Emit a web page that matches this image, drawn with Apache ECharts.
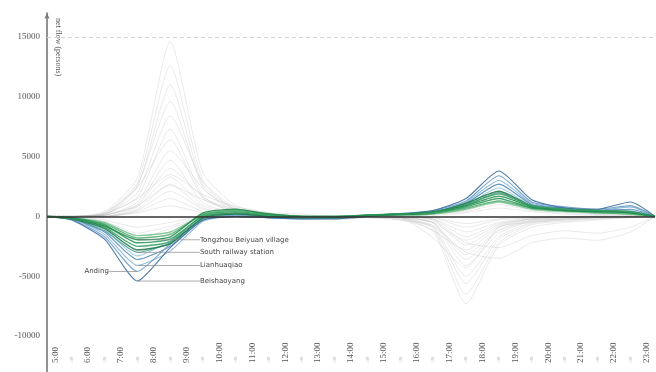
<!DOCTYPE html>
<html>
<head>
<meta charset="utf-8">
<script src="https://cdn.jsdelivr.net/npm/echarts@6/dist/echarts.min.js"></script>
<style>
  html, body { margin: 0; padding: 0; background: #fff; }
  #chart { width: 656px; height: 372px; }
</style>
</head>
<body>
<div id="chart"></div>
<script>
// Sample times (hour of day, hourly bins plotted at bin centre, day edges at zero)
const times = [4.75, 5.5, 6.5, 7.5, 8.5, 9.5, 10.5, 11.5, 12.5, 13.5, 14.5, 15.5, 16.5, 17.5, 18.5, 19.5, 20.5, 21.5, 22.5, 23.25];

// Axis tick values
const hourTicks = [5, 5.5, 6, 6.5, 7, 7.5, 8, 8.5, 9, 9.5, 10, 10.5, 11, 11.5, 12, 12.5, 13, 13.5, 14, 14.5, 15, 15.5, 16, 16.5, 17, 17.5, 18, 18.5, 19, 19.5, 20, 20.5, 21, 21.5, 22, 22.5, 23];
const flowTicks = [-10000, -5000, 0, 5000, 10000, 15000];
const guideLevel = 15000;

// Background stations: net flow per hour
const gray01 = [0, 0, 400, 3200, 14600, 3600, 900, 300, 0, -300, -100, -300, -1200, -7300, -2400, -900, -500, -300, -100, 0];
const gray02 = [0, 0, 300, 2800, 12600, 3000, 700, 200, -100, -200, 0, -200, -1000, -6500, -2200, -700, -400, -200, -100, 0];
const gray03 = [0, 0, 300, 2500, 11000, 2600, 600, 100, 0, -200, -100, -300, -900, -5600, -1900, -600, -300, -200, 0, 0];
const gray04 = [0, 0, 200, 2600, 9600, 2400, 500, 200, -100, -100, 0, -200, -800, -5000, -1700, -500, -300, -100, 0, 0];
const gray05 = [0, 0, 200, 2000, 8400, 2800, 500, 100, 0, -100, 0, -100, -1800, -4300, -900, -500, -200, -100, 0, 0];
const gray06 = [0, 0, 200, 1600, 7300, 1700, 400, 100, 0, -100, 100, -100, -600, -4100, -1400, -400, -200, -100, 0, 0];
const gray07 = [0, 0, 100, 2400, 6400, 1500, 400, 100, 0, 0, 0, -100, -500, -3600, -1200, -400, -200, 0, 0, 0];
const gray08 = [0, 0, 100, 1200, 5500, 2300, 300, 100, 0, 0, 0, -100, -500, -3200, -1100, -300, -100, 0, 0, 0];
const gray09 = [0, 0, 100, 1000, 4700, 1100, 300, 0, 0, 0, 100, 0, -1200, -2800, -900, -300, -100, 0, 0, 0];
const gray10 = [0, 0, 100, 900, 4000, 1600, 200, 0, 0, 0, 0, 0, -300, -2400, -800, -200, -100, 0, 0, 0];
const gray11 = [0, 0, 0, 800, 3300, 900, 200, 0, 0, 0, 0, 0, -300, -2000, -700, -200, 0, 0, 0, 0];
const gray12 = [0, 0, 0, 600, 2700, 700, 200, 0, 0, 0, 0, 0, -200, -1700, -600, -200, 0, 0, 0, 0];
const gray13 = [0, 0, 0, 500, 2100, 600, 100, 0, 0, 0, 0, 0, -200, -1300, -500, -100, 0, 0, 0, 0];
const gray14 = [0, 0, 0, 400, 1500, 400, 100, 0, 0, 0, 0, 0, -100, -900, -300, -100, 0, 0, 0, 0];
const gray15 = [0, 0, 0, 300, 900, 300, 100, 0, 0, 0, 0, 0, -100, -600, -200, 0, 0, 0, 0, 0];
const gray16 = [0, -100, -600, -2800, -1400, -200, 100, 0, -100, 0, 100, 200, 300, 600, 1900, 900, 500, 300, 200, 0];
const gray17 = [0, -100, -500, -1900, -1000, -100, 100, 0, 0, 0, 100, 100, 200, 500, 1300, 600, 400, 200, 100, 0];
const gray18 = [0, -50, -400, -1400, -800, 0, 100, 0, 0, 0, 0, 100, 200, 400, 1000, 500, 300, 200, 100, 0];
const gray19 = [0, 0, -300, -900, -500, 0, 0, 0, 0, 0, 0, 100, 100, 300, 700, 400, 200, 100, 0, 0];
const gray20 = [0, 0, 200, 1500, 3500, 1800, 800, 300, 200, 0, 0, -100, -800, -3000, -3500, -2200, -1800, -2000, -1300, 0];
const gray21 = [0, 0, 100, 900, 2600, 1400, 600, 200, 0, 0, 0, 0, -500, -2200, -2600, -1600, -1200, -1400, -900, 0];

// Highlighted stations (blue family)
const shahe = [0, -300, -1900, -5400, -2600, -300, 0, -100, -200, -200, 0, 200, 500, 1500, 3800, 1400, 700, 600, 1200, 0];
const anding = [0, -250, -1700, -4600, -2300, -200, 100, -100, -200, -150, 50, 250, 500, 1300, 3400, 1200, 800, 600, 900, 0];
const lianhuaqiao = [0, -200, -1500, -4100, -2900, -400, 0, -100, -150, -100, 100, 200, 400, 1200, 3000, 1100, 700, 500, 800, 0];
const blue4 = [0, -200, -1300, -3600, -2500, -300, 0, -100, -100, -100, 100, 200, 400, 1100, 2700, 1000, 700, 500, 600, 0];
const blue5 = [0, -150, -1100, -3300, -2000, -200, 100, 0, -100, -100, 100, 150, 300, 1000, 2400, 900, 600, 400, 500, 0];
const southStation = [0, -200, -1200, -3000, -2200, -200, 200, 0, -100, -100, 100, 200, 300, 900, 2000, 800, 600, 400, 400, 0];

// Highlighted stations (green family)
const tongzhou = [0, -150, -800, -1950, -1700, 300, 600, 200, 0, -50, 100, 200, 400, 900, 1700, 800, 500, 400, 300, 0];
const green2 = [0, -150, -900, -2500, -2100, 100, 400, 100, -100, -100, 100, 200, 300, 1000, 1900, 900, 600, 500, 400, 0];
const green3 = [0, -100, -700, -2200, -1900, 0, 300, 100, 0, 0, 100, 200, 300, 800, 1500, 700, 500, 400, 300, 0];
const green4 = [0, -100, -600, -1800, -1500, 200, 500, 200, 0, 0, 100, 150, 250, 700, 1300, 700, 500, 300, 200, 0];
const green5 = [0, -100, -500, -1600, -1300, 100, 300, 100, 0, 0, 100, 100, 200, 600, 1200, 600, 400, 300, 200, 0];
const green6 = [0, -200, -1000, -2800, -2300, -100, 200, 0, -100, -100, 50, 150, 300, 1100, 2100, 900, 600, 500, 400, 0];

const grayRows = [gray01, gray02, gray03, gray04, gray05, gray06, gray07, gray08, gray09, gray10, gray11,
  gray12, gray13, gray14, gray15, gray16, gray17, gray18, gray19, gray20, gray21];

// Highlighted series: name, values, colour, label side
const blueRows = [
  { name: 'Lianhuaqiao', values: lianhuaqiao, color: '#86b5d6', side: 'right' },
  { name: '', values: blue4, color: '#4f88bb', side: null },
  { name: '', values: blue5, color: '#9cc4de', side: null },
  { name: 'Anding', values: anding, color: '#6a9dc6', side: 'left' },
  { name: 'Beishaoyang', values: shahe, color: '#3c6d9e', side: 'right' },
  { name: 'South railway station', values: southStation, color: '#4d9c94', side: 'right' }
];
const greenRows = [
  { name: '', values: green5, color: '#7cc494', side: null },
  { name: '', values: green4, color: '#55b174', side: null },
  { name: '', values: green3, color: '#2f9a5c', side: null },
  { name: '', values: green6, color: '#1f7a4c', side: null },
  { name: '', values: green2, color: '#3aa466', side: null },
  { name: 'Tongzhou Beiyuan village', values: tongzhou, color: '#268c50', side: 'right' }
];

function pairs(values) {
  return times.map((t, i) => [t, values[i]]);
}

const series = [];

// Zero baseline and the dashed guide level
series.push({
  type: 'line', silent: true, data: [], symbol: 'none',
  markLine: {
    silent: true, symbol: 'none', label: { show: false },
    data: [
      { yAxis: 0, lineStyle: { color: '#333', width: 1.6, type: 'solid' } },
      { yAxis: guideLevel, lineStyle: { color: '#d4d4d4', width: 1, type: [4, 3] } }
    ]
  }
});

grayRows.forEach(row => {
  series.push({
    type: 'line', data: pairs(row), symbol: 'none', silent: true, smooth: 0.2,
    lineStyle: { color: 'rgba(170,170,170,0.28)', width: 0.9 }
  });
});

// The labelled point sits at the morning minimum of each highlighted station
function highlighted(row, width) {
  const data = pairs(row.values);
  const s = {
    type: 'line', data: data, silent: true, smooth: 0.2,
    symbol: 'circle', symbolSize: 1, showSymbol: true,
    itemStyle: { color: 'rgba(0,0,0,0)', borderWidth: 0 },
    lineStyle: { color: row.color, width: width, opacity: 0.9 },
    label: { show: false }
  };
  if (row.side) {
    let minIdx = 0;
    row.values.forEach((v, i) => { if (v < row.values[minIdx]) minIdx = i; });
    data[minIdx] = {
      value: data[minIdx],
      label: {
        show: true, formatter: row.name, position: row.side, distance: 4,
        fontSize: 7, color: '#444', opacity: 1, fontFamily: 'DejaVu Sans'
      }
    };
    s.labelLine = { show: true, lineStyle: { color: '#8a8a8a', width: 0.7 } };
    s.labelLayout = { dx: row.side === 'right' ? 58 : -24, dy: 0, hideOverlap: false };
  }
  return s;
}

blueRows.forEach(row => series.push(highlighted(row, 1.1)));
greenRows.forEach(row => series.push(highlighted(row, 1.4)));

const chart = echarts.init(document.getElementById('chart'), null, { renderer: 'canvas' });
chart.setOption({
  animation: false,
  backgroundColor: '#fff',
  grid: { left: 47, right: 1, top: 13, bottom: 0, containLabel: false },
  xAxis: {
    type: 'value', min: 4.75, max: 23.25,
    axisLine: { show: false },
    axisTick: { show: false },
    splitLine: { show: false },
    axisLabel: {
      customValues: hourTicks,
      inside: true, rotate: 90, margin: 9,
      formatter: v => (Number.isInteger(v) ? '{h|' + v + ':00}' : '{m|:30}'),
      rich: {
        h: { fontSize: 9, color: '#555', fontFamily: 'Liberation Serif' },
        m: { fontSize: 5, color: '#b0b0b0', fontFamily: 'Liberation Serif' }
      }
    }
  },
  yAxis: {
    type: 'value', min: -13000, max: 17000,
    axisLine: { show: true, lineStyle: { color: '#777', width: 1.6 }, symbol: ['none', 'arrow'], symbolSize: [4, 6] },
    axisTick: { show: false },
    splitLine: { show: false },
    axisLabel: {
      customValues: flowTicks, margin: 7,
      formatter: v => String(v),
      fontSize: 9, color: '#555', fontFamily: 'Liberation Serif'
    }
  },
  graphic: [{
    type: 'text', x: 58, y: 18, rotation: -Math.PI / 2,
    style: { text: 'net flow (persons)', fontSize: 8, fill: '#555', fontFamily: 'Liberation Serif', textVerticalAlign: 'middle' }
  }],
  series: series
});
</script>
</body>
</html>
